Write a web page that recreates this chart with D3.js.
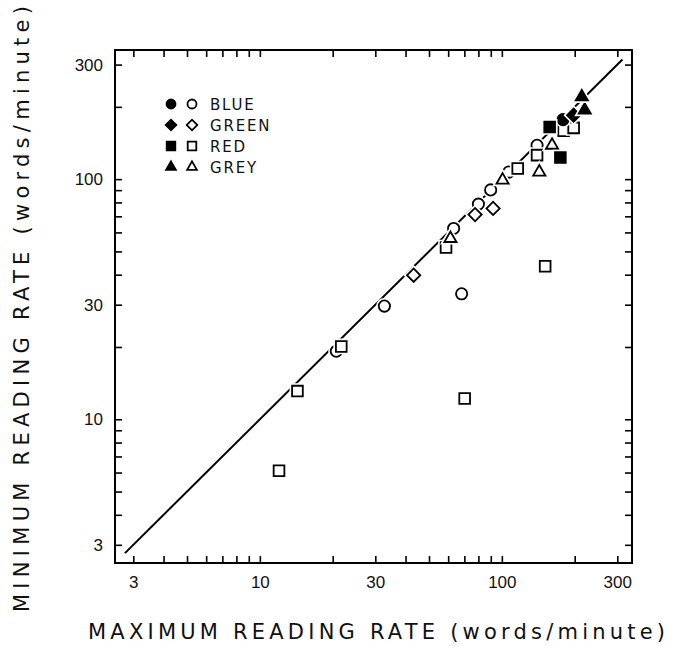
<!DOCTYPE html>
<html>
<head>
<meta charset="utf-8">
<script src="https://cdn.jsdelivr.net/npm/d3@7"></script>
<style>
  body { margin: 0; background: #fff; }
  svg { display: block; font-family: "DejaVu Sans", sans-serif; }
</style>
</head>
<body>
<svg id="chart" width="677" height="646"></svg>
<script>
// [max rate, min rate] in words/minute
const blueFilled = [[179, 177]];
const blueOpen = [[20.7, 19.2], [32.7, 29.6], [68.2, 33.3], [63.2, 62.3], [80, 78.7], [89.9, 90.2], [106.7, 107], [139.8, 138.4]];
const greenFilled = [[198, 184.6]];
const greenOpen = [[43.2, 39.8], [77.5, 71.2], [92, 75.5]];
const redFilled = [[157.6, 165], [174.5, 123]];
const redOpen = [[12, 6.1], [14.3, 13.1], [21.7, 20.1], [70.2, 12.2], [151, 43.4], [58.8, 51.9], [116.3, 110.7], [139.8, 125.9], [180, 159], [198, 163.5]];
const greyFilled = [[220, 193.8], [214, 220]];
const greyOpen = [[61.3, 56.6], [100.7, 99], [142.8, 107], [161.2, 138.4]];

const legendNames = ["BLUE", "GREEN", "RED", "GREY"];
const tickValues = [3, 4, 5, 6, 7, 8, 9, 10, 20, 30, 40, 50, 60, 70, 80, 90, 100, 200, 300];
const tickLabels = [3, 10, 30, 100, 300];
const diagonal = [2.77, 315];

const svg = d3.select("#chart");
const x = d3.scaleLog().domain([2.52, 345]).range([115, 632]);
const y = d3.scaleLog().domain([2.52, 345]).range([563, 50]);

const fmt = (d) => (tickLabels.includes(d) ? d : "");

const axes = [
    [d3.axisBottom(x).tickFormat(fmt).tickPadding(13), `translate(0,${y.range()[0]})`],
    [d3.axisTop(x).tickFormat(""), `translate(0,${y.range()[1]})`],
    [d3.axisLeft(y).tickFormat(fmt).tickPadding(12), `translate(${x.range()[0]},0)`],
    [d3.axisRight(y).tickFormat(""), `translate(${x.range()[1]},0)`]
];
axes.forEach(([axis, tr]) => {
    const g = svg.append("g").attr("transform", tr)
        .call(axis.tickValues(tickValues).tickSizeInner(-7).tickSizeOuter(0));
    g.select(".domain").remove();
    g.selectAll("line").attr("stroke", "#000").attr("stroke-width", 1.6);
    g.selectAll("text").attr("fill", "#111").style("font-size", "17px");
});

svg.append("rect")
    .attr("x", x.range()[0]).attr("y", y.range()[1])
    .attr("width", x.range()[1] - x.range()[0]).attr("height", y.range()[0] - y.range()[1])
    .attr("fill", "none").attr("stroke", "#000").attr("stroke-width", 2);

// identity line
svg.append("path")
    .attr("d", d3.line().x((d) => x(d)).y((d) => y(d))(diagonal))
    .attr("stroke", "#000").attr("stroke-width", 2).attr("fill", "none");

const shapes = {
    circle: { type: d3.symbolCircle, size: 100, rot: 0 },
    diamond: { type: d3.symbolSquare, size: 88, rot: 45 },
    square: { type: d3.symbolSquare, size: 115, rot: 0 },
    triangle: { type: d3.symbolTriangle, size: 64, rot: 0 }
};
const series = [
    [blueOpen, "circle", false], [greenOpen, "diamond", false], [redOpen, "square", false], [greyOpen, "triangle", false],
    [blueFilled, "circle", true], [greenFilled, "diamond", true], [redFilled, "square", true], [greyFilled, "triangle", true]
];

function drawMarker(g, shape, filled, px, py, scale) {
    const s = shapes[shape];
    const path = d3.symbol().type(s.type).size(s.size * scale * scale)();
    const tr = `translate(${px},${py}) rotate(${s.rot})`;
    // white halo breaks the line near points, like the original plot
    g.append("path").attr("d", path).attr("transform", tr)
        .attr("fill", "#fff").attr("stroke", "#fff").attr("stroke-width", 5);
    g.append("path").attr("d", path).attr("transform", tr)
        .attr("fill", filled ? "#000" : "#fff").attr("stroke", "#000").attr("stroke-width", 1.8);
}

const marks = svg.append("g");
series.forEach(([data, shape, filled]) => {
    data.forEach((d) => drawMarker(marks, shape, filled, x(d[0]), y(d[1]), 1));
});

// legend
const legend = svg.append("g");
const legendShapes = ["circle", "diamond", "square", "triangle"];
legendNames.forEach((name, i) => {
    const ly = 104 + i * 21;
    drawMarker(legend, legendShapes[i], true, 171, ly, 0.8);
    drawMarker(legend, legendShapes[i], false, 192, ly, 0.8);
    legend.append("text").attr("x", 210).attr("y", ly + 5.5)
        .style("font-size", "15px").style("letter-spacing", "1.8px").attr("fill", "#111").text(name);
});

// axis titles
svg.append("text")
    .attr("x", 88).attr("y", 639)
    .attr("textLength", 577).attr("lengthAdjust", "spacing")
    .style("font-size", "21px").attr("fill", "#111")
    .text("MAXIMUM READING RATE (words/minute)");

svg.append("text")
    .attr("transform", "translate(29,612) rotate(-90)")
    .attr("textLength", 606).attr("lengthAdjust", "spacing")
    .style("font-size", "21px").attr("fill", "#111")
    .text("MINIMUM READING RATE (words/minute)");
</script>
</body>
</html>
